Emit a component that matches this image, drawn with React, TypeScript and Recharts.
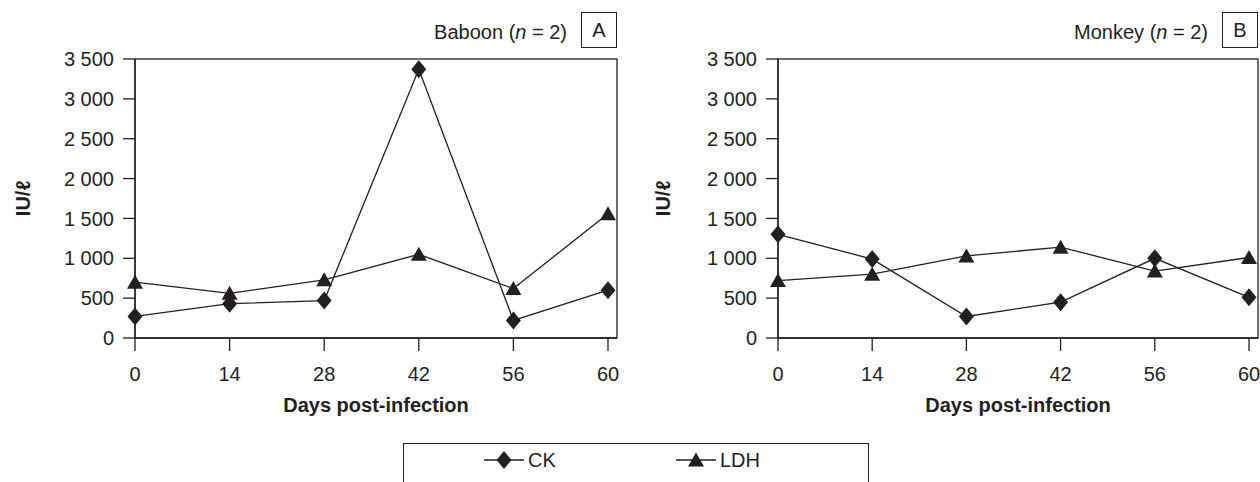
import React from "react";
import * as R from "recharts";
import { Line, LineChart, XAxis, YAxis } from "recharts";

const INK = "#231f20";
const FONT = "'Liberation Sans', Arial, sans-serif";

const DAYS = ["0", "14", "28", "42", "56", "60"];
const Y_TICKS = [0, 500, 1000, 1500, 2000, 2500, 3000, 3500];

const BABOON_CK = [270, 430, 470, 3370, 220, 600];
const BABOON_LDH = [700, 560, 730, 1050, 620, 1560];
const MONKEY_CK = [1300, 990, 270, 450, 1000, 510];
const MONKEY_LDH = [720, 800, 1030, 1140, 840, 1010];

const SERIES = [
  { key: "ck", name: "CK", shape: "diamond" },
  { key: "ldh", name: "LDH", shape: "triangle" },
];

const fmt = (v: number) => (v >= 1000 ? `${Math.floor(v / 1000)} ${String(v % 1000).padStart(3, "0")}` : String(v));

function markerPath(shape: string, cx: number, cy: number) {
  if (shape === "diamond") {
    return `M${cx},${cy - 9} L${cx + 7.5},${cy} L${cx},${cy + 9} L${cx - 7.5},${cy} Z`;
  }
  return `M${cx},${cy - 7.5} L${cx + 8},${cy + 6.5} L${cx - 8},${cy + 6.5} Z`;
}

const makeDot = (shape: string) => (p: any) => (
  <path key={`${shape}-${p.index}`} d={markerPath(shape, p.cx, p.cy)} fill={INK} stroke="none" />
);

// frame round the plot area (top and right edges)
const usePlotArea: any = (R as any).usePlotArea || (R as any).useOffset;
function PlotFrame() {
  const a = usePlotArea ? usePlotArea() : null;
  if (!a) return null;
  const x = a.x ?? a.left;
  const y = a.y ?? a.top;
  const w = a.width;
  const h = a.height;
  if (w == null || h == null) return null;
  return <rect x={x} y={y} width={w} height={h} fill="none" stroke={INK} strokeWidth={1.3} />;
}

function Panel({
  title,
  letter,
  ck,
  ldh,
  width,
  yWidth,
  right,
}: {
  title: string;
  letter: string;
  ck: number[];
  ldh: number[];
  width: number;
  yWidth: number;
  right: number;
}) {
  const data = DAYS.map((day, i) => ({ day, ck: ck[i], ldh: ldh[i] }));
  const tickStyle = { fill: INK, fontSize: 20, fontFamily: FONT };
  return (
    <div style={{ position: "relative", width, height: 418 }}>
      <LineChart width={width} height={418} data={data} margin={{ top: 59, right, bottom: 0, left: 0 }}>
        <PlotFrame />
        <XAxis
          dataKey="day"
          interval={0}
          padding={{ left: 0, right: 9 }}
          height={80}
          tickSize={13}
          tickMargin={16}
          tick={tickStyle}
          axisLine={{ stroke: INK, strokeWidth: 1.3 }}
          tickLine={{ stroke: INK, strokeWidth: 1.3 }}
          label={{
            value: "Days post-infection",
            position: "insideBottom",
            offset: 6,
            fill: INK,
            fontSize: 20,
            fontWeight: "bold",
            fontFamily: FONT,
          }}
        />
        <YAxis
          domain={[0, 3500]}
          ticks={Y_TICKS}
          interval={0}
          width={yWidth}
          tickSize={12}
          tickMargin={9}
          tickFormatter={fmt}
          tick={tickStyle}
          axisLine={{ stroke: INK, strokeWidth: 1.3 }}
          tickLine={{ stroke: INK, strokeWidth: 1.3 }}
          label={{
            value: "IU/ℓ",
            angle: -90,
            position: "insideLeft",
            offset: 23,
            fill: INK,
            fontSize: 20,
            fontWeight: "bold",
            fontFamily: FONT,
            style: { textAnchor: "middle" },
          }}
        />
        {SERIES.map((s) => (
          <Line
            key={s.key}
            dataKey={s.key}
            name={s.name}
            stroke={INK}
            strokeWidth={1.3}
            dot={makeDot(s.shape)}
            activeDot={false}
            isAnimationActive={false}
          />
        ))}
      </LineChart>
      <div
        style={{
          position: "absolute",
          right: right + 50,
          top: 20,
          fontFamily: FONT,
          fontSize: 20,
          color: INK,
          lineHeight: "24px",
          whiteSpace: "nowrap",
        }}
      >
        {title} (<i>n</i> = 2)
      </div>
      <div
        style={{
          position: "absolute",
          right: right,
          top: 12,
          width: 36,
          height: 36,
          border: `1px solid ${INK}`,
          boxSizing: "border-box",
          fontFamily: FONT,
          fontSize: 20,
          color: INK,
          display: "flex",
          alignItems: "center",
          justifyContent: "center",
        }}
      >
        {letter}
      </div>
    </div>
  );
}

function LegendBox() {
  return (
    <div
      style={{
        position: "absolute",
        left: 403,
        top: 443,
        width: 466,
        height: 60,
        border: `1px solid ${INK}`,
        boxSizing: "border-box",
        display: "flex",
        paddingLeft: 80,
        paddingTop: 4,
        fontFamily: FONT,
        fontSize: 20,
        color: INK,
      }}
    >
      {SERIES.map((s) => (
        <div key={s.key} style={{ display: "flex", alignItems: "center", width: 214, height: 24 }}>
          <svg width={42} height={24}>
            <line x1={0} y1={12} x2={40} y2={12} stroke={INK} strokeWidth={1.3} />
            <path d={markerPath(s.shape, 20, 12)} fill={INK} />
          </svg>
          <span style={{ marginLeft: 2 }}>{s.name}</span>
        </div>
      ))}
    </div>
  );
}

export default function App() {
  return (
    <div style={{ position: "relative", width: 1260, height: 482, overflow: "hidden", background: "#fff" }}>
      <style>{`body{margin:0}`}</style>
      <div style={{ position: "absolute", left: 0, top: 0 }}>
        <Panel title="Baboon" letter="A" ck={BABOON_CK} ldh={BABOON_LDH} width={640} yWidth={135} right={23} />
      </div>
      <div style={{ position: "absolute", left: 640, top: 0 }}>
        <Panel title="Monkey" letter="B" ck={MONKEY_CK} ldh={MONKEY_LDH} width={620} yWidth={138} right={2} />
      </div>
      <LegendBox />
    </div>
  );
}
